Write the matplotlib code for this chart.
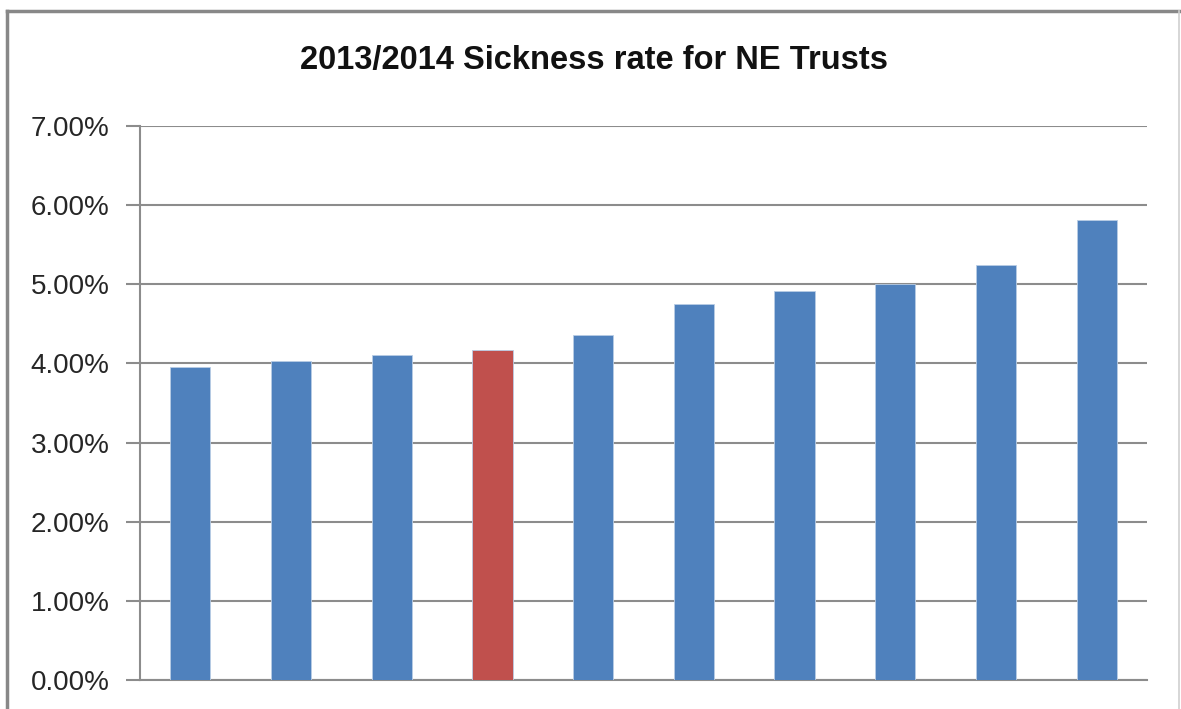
import matplotlib.pyplot as plt
from matplotlib.lines import Line2D
from matplotlib.ticker import FuncFormatter

# sickness rates (%) per trust, sorted ascending
rates = [3.95, 4.03, 4.11, 4.17, 4.36, 4.75, 4.91, 5.00, 5.25, 5.81]
highlight = 3  # our own trust
y_ticks = [0, 1, 2, 3, 4, 5, 6, 7]

blue = '#4F81BD'
red = '#C0504D'
grid_grey = '#8C8C8C'

plt.rcParams['font.family'] = ['Liberation Sans', 'DejaVu Sans']

fig = plt.figure(figsize=(11.81, 7.09), dpi=100)
ax = fig.add_axes([140 / 1181, 1 - 680 / 709, 1007 / 1181, 554 / 709])

colors = [red if i == highlight else blue for i in range(len(rates))]
ax.bar(range(len(rates)), rates, width=0.4, color=colors,
       edgecolor='#B9CDE5', linewidth=0.6, zorder=3)

ax.set_xlim(-0.5, len(rates) - 0.5)
ax.set_ylim(0, 7)
ax.set_yticks(y_ticks)
ax.yaxis.set_major_formatter(FuncFormatter(lambda v, _: f'{v:.2f}%'))
ax.set_xticks([])
ax.tick_params(axis='y', length=10, width=1.5, color=grid_grey,
               labelsize=20, labelcolor='#262626', pad=12)

ax.grid(axis='y', color=grid_grey, linewidth=1.5, zorder=0)
for side in ['top', 'right']:
    ax.spines[side].set_visible(False)
for side in ['left', 'bottom']:
    ax.spines[side].set_color(grid_grey)
    ax.spines[side].set_linewidth(1.5)

fig.text(594 / 1181, 1 - 61 / 709, '2013/2014 Sickness rate for NE Trusts',
         ha='center', va='center', fontsize=23.5, fontweight='bold', color='#111111')

# outer chart frame
fig.add_artist(Line2D([7 / 1181, 7 / 1181], [0, 1 - 11 / 709],
                      transform=fig.transFigure, color='#888888', linewidth=2.5))
fig.add_artist(Line2D([7 / 1181, 1179 / 1181], [1 - 11 / 709, 1 - 11 / 709],
                      transform=fig.transFigure, color='#888888', linewidth=2.5))
fig.add_artist(Line2D([1179 / 1181, 1179 / 1181], [0, 1 - 11 / 709],
                      transform=fig.transFigure, color='#D0D0D0', linewidth=1.2))

fig.savefig('out.png', dpi=100)
